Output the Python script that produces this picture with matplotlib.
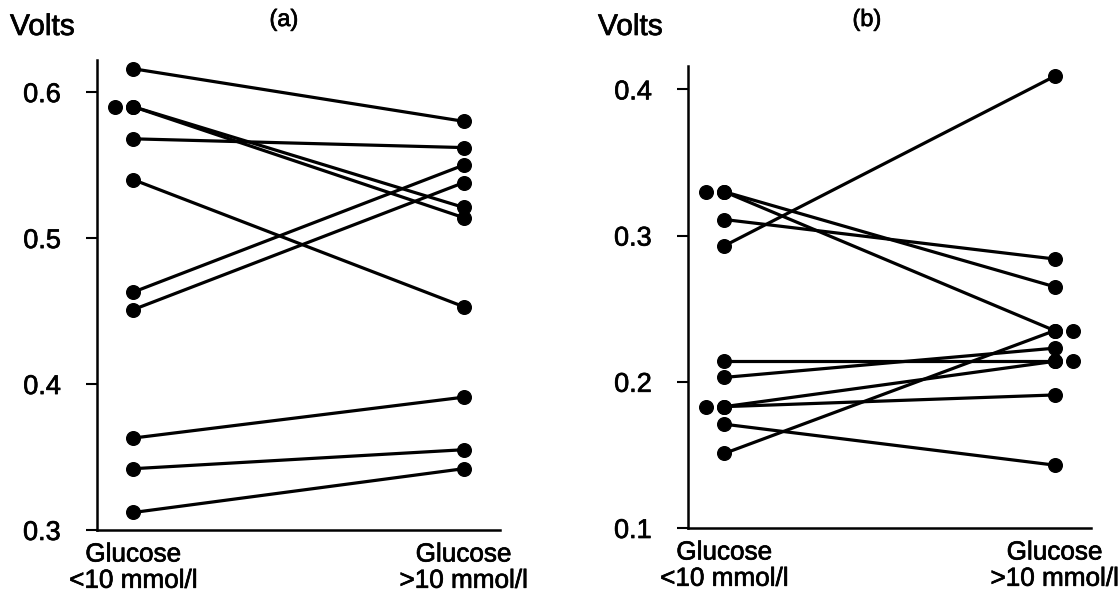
import matplotlib
matplotlib.use("Agg")
import matplotlib.pyplot as plt
import matplotlib.patheffects as pe
from collections import Counter

plt.rcParams['font.family'] = ['Liberation Sans', 'DejaVu Sans']

# (a) values, left = Glucose <10, right = Glucose >10
left_a = [0.616, 0.590, 0.590, 0.568, 0.540, 0.463, 0.451, 0.363, 0.342, 0.312]
right_a = [0.580, 0.521, 0.514, 0.562, 0.453, 0.550, 0.538, 0.391, 0.355, 0.342]

# (b)
left_b = [0.330, 0.330, 0.311, 0.293, 0.214, 0.203, 0.183, 0.183, 0.171, 0.151]
right_b = [0.265, 0.235, 0.284, 0.409, 0.214, 0.223, 0.214, 0.191, 0.143, 0.235]

ticks_a = [0.3, 0.4, 0.5, 0.6]
ticks_b = [0.1, 0.2, 0.3, 0.4]
xlabels = ["Glucose\n<10 mmol/l", "Glucose\n>10 mmol/l"]

fs = 19.5
# scanned text looks a bit heavy, thicken it slightly
heavy = [pe.withStroke(linewidth=0.5, foreground='black')]

fig = plt.figure(figsize=(11.19, 6.01), dpi=100)
ax1 = fig.add_axes([97/1119, 1-530/601, 403/1119, 470/601])
ax2 = fig.add_axes([688/1119, 1-528/601, 403/1119, 462/601])


def panel(ax, left, right, ticks, ylim, title, tx):
    for a, b in zip(left, right):
        ax.plot([0, 1], [a, b], color='black', lw=2.3, marker='o', ms=9.8,
                clip_on=False, solid_capstyle='round')
    # repeated values get a second dot beside them
    for side, vals, off in [(0, left, -0.055), (1, right, 0.055)]:
        for v, n in Counter(vals).items():
            if n > 1:
                ax.plot(side + off, v, 'o', color='black', ms=9.8, clip_on=False)
    ax.set_xlim(-0.11, 1.11)
    ax.set_ylim(*ylim)
    ax.set_yticks(ticks)
    ax.set_yticklabels([str(t) for t in ticks], fontsize=fs, path_effects=heavy)
    ax.set_xticks([0, 1])
    ax.set_xticklabels(xlabels, fontsize=18.8, linespacing=1.12, path_effects=heavy)
    ax.tick_params(axis='x', length=0, pad=9)
    ax.tick_params(axis='y', direction='out', length=8, width=1.5, pad=18)
    for s in ['top', 'right']:
        ax.spines[s].set_visible(False)
    for s in ['left', 'bottom']:
        ax.spines[s].set_linewidth(1.8)
    ax.text(tx, 1 - 20/601, title, transform=fig.transFigure, ha='center',
            va='center', fontsize=17, path_effects=heavy)


panel(ax1, left_a, right_a, ticks_a, (0.3, 0.622), "(a)", 284/1119)
panel(ax2, left_b, right_b, ticks_b, (0.1, 0.416), "(b)", 867/1119)

fig.text(10/1119, 1 - 27/601, "Volts", fontsize=21.5, va='center', ha='left',
         path_effects=heavy)
fig.text(598/1119, 1 - 27/601, "Volts", fontsize=21.5, va='center', ha='left',
         path_effects=heavy)

fig.savefig("out.png", dpi=100)
